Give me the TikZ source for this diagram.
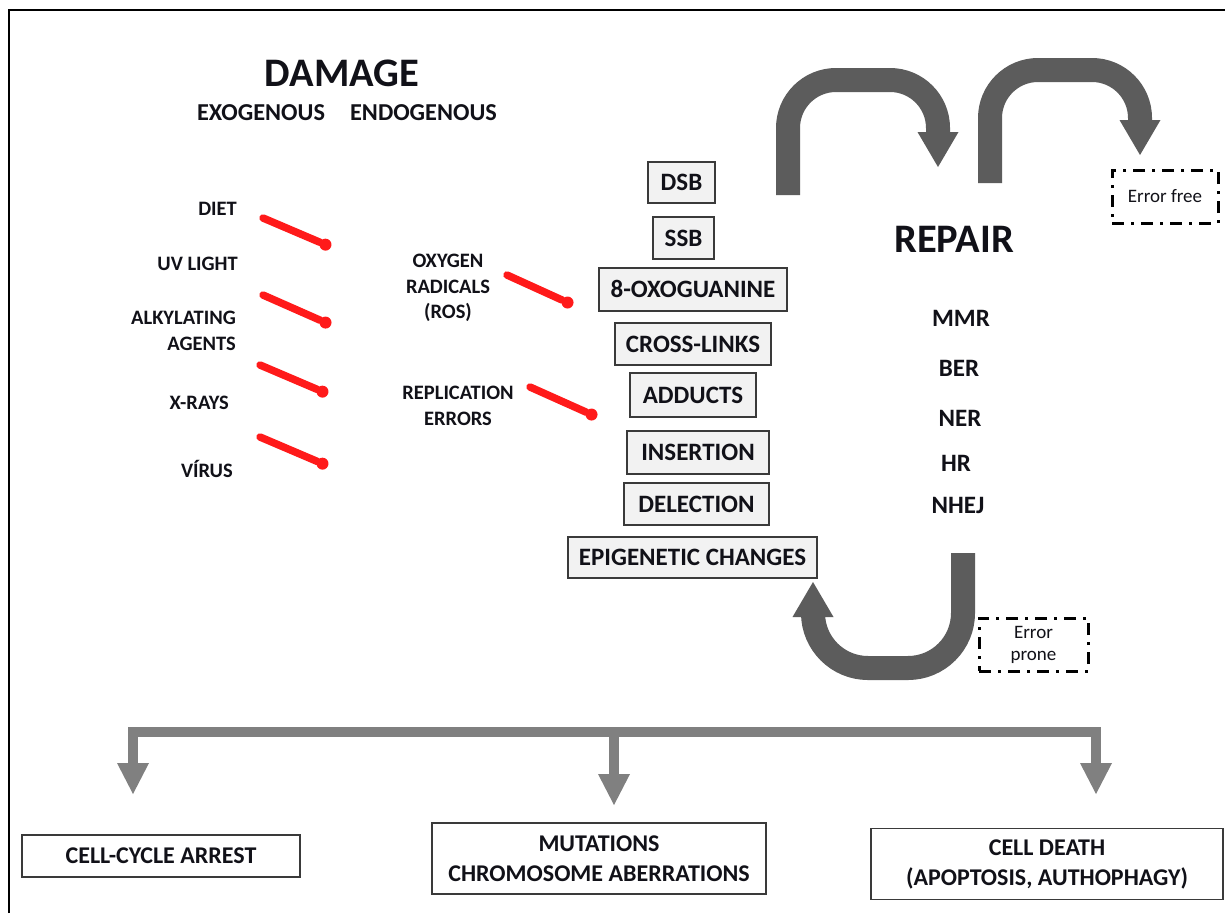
\documentclass[tikz,border=0pt]{standalone}
\usepackage{fontspec}
\setmainfont{Carlito}
\usetikzlibrary{arrows.meta}
\definecolor{txt}{HTML}{111118}
\definecolor{redl}{HTML}{FF1A1A}
\definecolor{darkarr}{HTML}{5C5C5C}
\definecolor{grayarr}{HTML}{808080}
\definecolor{boxfill}{HTML}{F2F2F2}
\definecolor{boxline}{HTML}{3A3A3A}
\begin{document}
\begin{tikzpicture}[x=1pt,y=-1pt,
  every node/.style={text=txt},
  title/.style={font=\fontsize{40.5}{44}\selectfont\bfseries, inner sep=0pt},
  sub/.style={font=\fontsize{24.3}{28}\selectfont\bfseries, inner sep=0pt},
  src/.style={font=\fontsize{20.5}{26}\selectfont\bfseries, inner sep=0pt, align=right, anchor=east},
  endo/.style={font=\fontsize{20.5}{25.5}\selectfont\bfseries, inner sep=0pt, align=center},
  lesion/.style={draw=boxline, fill=boxfill, line width=1.4pt, font=\fontsize{25}{28}\selectfont\bfseries, inner sep=0pt, text height=16pt, text depth=0pt},
  rep/.style={font=\fontsize{25}{28}\selectfont\bfseries, inner sep=0pt},
  errbox/.style={draw=black, line width=3pt, dash pattern=on 12pt off 7pt on 3pt off 7pt, font=\fontsize{19}{22}\selectfont, inner sep=0pt, align=center, minimum height=53pt},
  outcome/.style={draw=boxline, fill=white, line width=1.4pt, font=\fontsize{24}{30}\selectfont\bfseries, inner sep=0pt, align=center},
  redline/.style={draw=redl, line width=7.5pt, line cap=round, -{Circle[length=12pt,line width=0pt]}},
  curvearr/.style={draw=darkarr, line width=24pt, -{Triangle[width=41pt,length=35pt,line width=0pt]}},
  gbar/.style={draw=grayarr, line width=10pt},
  gdown/.style={draw=grayarr, line width=10pt, -{Triangle[width=32pt,length=31pt,line width=0pt]}}
]
\useasboundingbox (0,0) rectangle (1225,913);
\fill[white] (0,0) rectangle (1225,913);
% outer frame (left and top edges visible)
\draw[line width=2.5pt, line join=miter] (9,913) -- (9,10) -- (1225,10);

% headings
\node[title] (damage) at (342,73) {DAMAGE};
\node[sub] (exo) at (261,113) {EXOGENOUS};
\node[sub] (endo) at (423.5,113) {ENDOGENOUS};

% exogenous sources
\node[src] (diet) at (237,209) {DIET};
\node[src] (uv) at (238,264) {UV LIGHT};
\node[src] (alk) at (236,331) {ALKYLATING\\AGENTS};
\node[src] (xray) at (229,403) {X-RAYS};
\node[src] (virus) at (233,469) {VÍRUS};

% endogenous sources
\node[endo] (oxy) at (448,288) {OXYGEN\\RADICALS\\(ROS)};
\node[endo] (repl) at (458,406) {REPLICATION\\ERRORS};

% red connectors
\coordinate (r1s) at (263,218); \coordinate (r1e) at (331,247);
\coordinate (r2s) at (263,295); \coordinate (r2e) at (331,325);
\coordinate (r3s) at (260,365); \coordinate (r3e) at (328,394);
\coordinate (r4s) at (260,437); \coordinate (r4e) at (328,466);
\coordinate (r5s) at (507,275); \coordinate (r5e) at (573,305);
\coordinate (r6s) at (530,387); \coordinate (r6e) at (597,417);
\draw[redline] (r1s) -- (r1e);
\draw[redline] (r2s) -- (r2e);
\draw[redline] (r3s) -- (r3e);
\draw[redline] (r4s) -- (r4e);
\draw[redline] (r5s) -- (r5e);
\draw[redline] (r6s) -- (r6e);

% lesions
\node[lesion, minimum width=67pt, minimum height=41pt] (dsb) at (681.5,182.5) {DSB};
\node[lesion, minimum width=61pt, minimum height=42pt] (ssb) at (683.5,238) {SSB};
\node[lesion, minimum width=188pt, minimum height=43pt] (oxo) at (693,289.5) {8-OXOGUANINE};
\node[lesion, minimum width=156pt, minimum height=42pt] (cross) at (693,344) {CROSS-LINKS};
\node[lesion, minimum width=126pt, minimum height=44pt] (add) at (693,395) {ADDUCTS};
\node[lesion, minimum width=142pt, minimum height=43pt] (ins) at (698,452.5) {INSERTION};
\node[lesion, minimum width=145pt, minimum height=42pt] (del) at (696.5,504) {DELECTION};
\node[lesion, minimum width=249pt, minimum height=41pt] (epi) at (692.5,557.5) {EPIGENETIC CHANGES};

% repair
\node[title] (repair) at (954,239) {REPAIR};
\node[rep] (mmr) at (961,318) {MMR};
\node[rep] (ber) at (959,368) {BER};
\node[rep] (ner) at (960,418) {NER};
\node[rep] (hr) at (956,463) {HR};
\node[rep] (nhej) at (958,505) {NHEJ};

% curved arrows
\coordinate (a1s) at (788,195); \coordinate (a1e) at (938,167);
\coordinate (a2s) at (990,183); \coordinate (a2e) at (1140,155);
\coordinate (a3s) at (963,553); \coordinate (a3e) at (813,582);
\draw[curvearr, rounded corners=48pt] (a1s) -- (788,80) -- (938,80) -- (a1e);
\draw[curvearr, rounded corners=48pt] (a2s) -- (990,70) -- (1140,70) -- (a2e);
\draw[curvearr, rounded corners=55pt] (a3s) -- (963,668) -- (813,668) -- (a3e);

% error boxes
\node[errbox, minimum width=106pt] (errfree) at (1165,196.5) {Error free};
\node[errbox, minimum width=109pt] (errprone) at (1033.5,644.5) {Error\\prone};

% outcome distribution
\coordinate (bl) at (128,732); \coordinate (br) at (1101,732);
\coordinate (s1) at (133,727); \coordinate (t1) at (133,794);
\coordinate (s2) at (614,727); \coordinate (t2) at (614,805);
\coordinate (s3) at (1096,727); \coordinate (t3) at (1096,794);
\draw[gbar] (bl) -- (br);
\draw[gdown] (s1) -- (t1);
\draw[gdown] (s2) -- (t2);
\draw[gdown] (s3) -- (t3);

% outcomes
\node[outcome, minimum width=278pt, minimum height=42pt] (arrest) at (161,856) {CELL-CYCLE ARREST};
\node[outcome, minimum width=334pt, minimum height=71pt] (mut) at (599,858.5) {MUTATIONS\\CHROMOSOME ABERRATIONS};
\node[outcome, minimum width=352pt, minimum height=71pt] (death) at (1047,864) {CELL DEATH\\(APOPTOSIS, AUTHOPHAGY)};
\end{tikzpicture}
\end{document}
